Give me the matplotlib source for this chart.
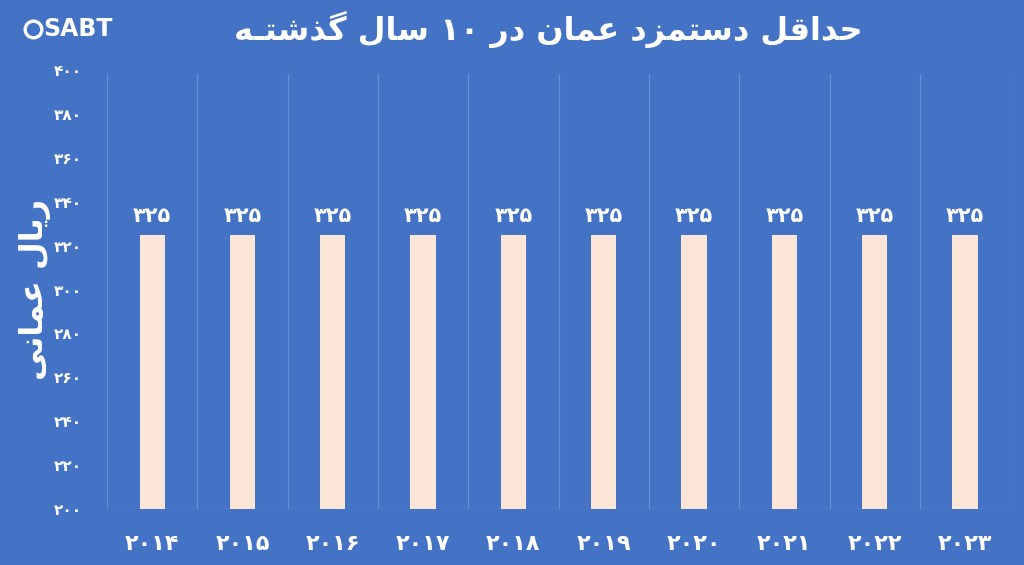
import re
import matplotlib
matplotlib.use("Agg")
import matplotlib.pyplot as plt
from matplotlib.lines import Line2D
from matplotlib.ticker import FuncFormatter, MultipleLocator

# data
years = [2014, 2015, 2016, 2017, 2018, 2019, 2020, 2021, 2022, 2023]
wages = [325, 325, 325, 325, 325, 325, 325, 325, 325, 325]
title = "حداقل دستمزد عمان در 10 سال گذشتـه"
ylabel = "ریال عمانی"

BG = "#4472C4"
BAR = "#FBE5D6"
GRID = "#6690D6"

# matplotlib has no arabic shaping, so pick presentation forms by hand
# char: (isolated, final, initial, medial)
FORMS = {
    "ا": ("\uFE8D", "\uFE8E", None, None),
    "د": ("\uFEA9", "\uFEAA", None, None),
    "ذ": ("\uFEAB", "\uFEAC", None, None),
    "ر": ("\uFEAD", "\uFEAE", None, None),
    "ز": ("\uFEAF", "\uFEB0", None, None),
    "ت": ("\uFE95", "\uFE96", "\uFE97", "\uFE98"),
    "ح": ("\uFEA1", "\uFEA2", "\uFEA3", "\uFEA4"),
    "س": ("\uFEB1", "\uFEB2", "\uFEB3", "\uFEB4"),
    "ش": ("\uFEB5", "\uFEB6", "\uFEB7", "\uFEB8"),
    "ع": ("\uFEC9", "\uFECA", "\uFECB", "\uFECC"),
    "ق": ("\uFED5", "\uFED6", "\uFED7", "\uFED8"),
    "ل": ("\uFEDD", "\uFEDE", "\uFEDF", "\uFEE0"),
    "م": ("\uFEE1", "\uFEE2", "\uFEE3", "\uFEE4"),
    "ن": ("\uFEE5", "\uFEE6", "\uFEE7", "\uFEE8"),
    "ه": ("\uFEE9", "\uFEEA", "\uFEEB", "\uFEEC"),
    "گ": ("\uFB92", "\uFB93", "\uFB94", "\uFB95"),
    "ی": ("\uFBFC", "\uFBFD", "\uFBFE", "\uFBFF"),
    "ـ": ("ـ", "ـ", "ـ", "ـ"),
}

fa_digits = str.maketrans("0123456789", "۰۱۲۳۴۵۶۷۸۹")


def dual(c):
    return c in FORMS and FORMS[c][2] is not None


def fa(text):
    text = str(text).translate(fa_digits)
    out = []
    for i, c in enumerate(text):
        if c not in FORMS:
            out.append(c)
            continue
        prev = text[i - 1] if i > 0 else ""
        nxt = text[i + 1] if i + 1 < len(text) else ""
        jp = dual(prev)
        jn = dual(c) and nxt in FORMS
        iso, fin, ini, med = FORMS[c]
        if jp and jn:
            out.append(med)
        elif jp:
            out.append(fin)
        elif jn:
            out.append(ini)
        else:
            out.append(iso)
    vis = "".join(out)[::-1]
    # digit runs stay left to right
    return re.sub("[۰-۹]+", lambda m: m.group(0)[::-1], vis)


plt.rcParams["font.family"] = ["DejaVu Sans"]
plt.rcParams["font.weight"] = "bold"

fig = plt.figure(figsize=(10.24, 5.65), dpi=100, facecolor=BG)
ax = fig.add_axes([0.1045, 0.099, 0.882, 0.777])
ax.set_facecolor(BG)

x = list(range(len(years)))
bars = ax.bar(x, wages, width=0.28, color=BAR, zorder=3)
for b, v in zip(bars, wages):
    ax.text(b.get_x() + b.get_width() / 2, v + 4, fa(v), ha="center", va="bottom",
            color="white", fontsize=15, fontweight="bold")

ax.set_ylim(200, 400)
ax.set_xlim(-0.5, len(years) - 0.5)
ax.yaxis.set_major_locator(MultipleLocator(20))
ax.yaxis.set_major_formatter(FuncFormatter(lambda v, p: fa(int(v))))
ax.set_xticks(x)
ax.set_xticklabels([fa(y) for y in years])

for xv in range(len(years) + 1):
    ax.plot([xv - 0.5, xv - 0.5], [200, 398], color=GRID, lw=0.9, zorder=1)
ax.axhline(200, color=GRID, lw=0.9, zorder=2)

for s in ax.spines.values():
    s.set_visible(False)
ax.tick_params(length=0, colors="white")
ax.tick_params(axis="y", labelsize=11, pad=18)
ax.tick_params(axis="x", labelsize=16, pad=18)

ax.set_ylabel(fa(ylabel), color="white", fontsize=23, fontweight="bold", labelpad=2)

fig.text(0.535, 0.948, fa(title), ha="center", va="center", color="white",
         fontsize=23, fontweight="bold")

# logo
fig.text(0.042, 0.948, "SABT", ha="left", va="center", color="white",
         fontsize=17, fontweight="bold")
fig.add_artist(Line2D([0.032], [0.948], transform=fig.transFigure, marker="o",
                      markersize=12, markerfacecolor="none",
                      markeredgecolor="white", markeredgewidth=2.4))

fig.savefig("out.png", dpi=100, facecolor=BG)
